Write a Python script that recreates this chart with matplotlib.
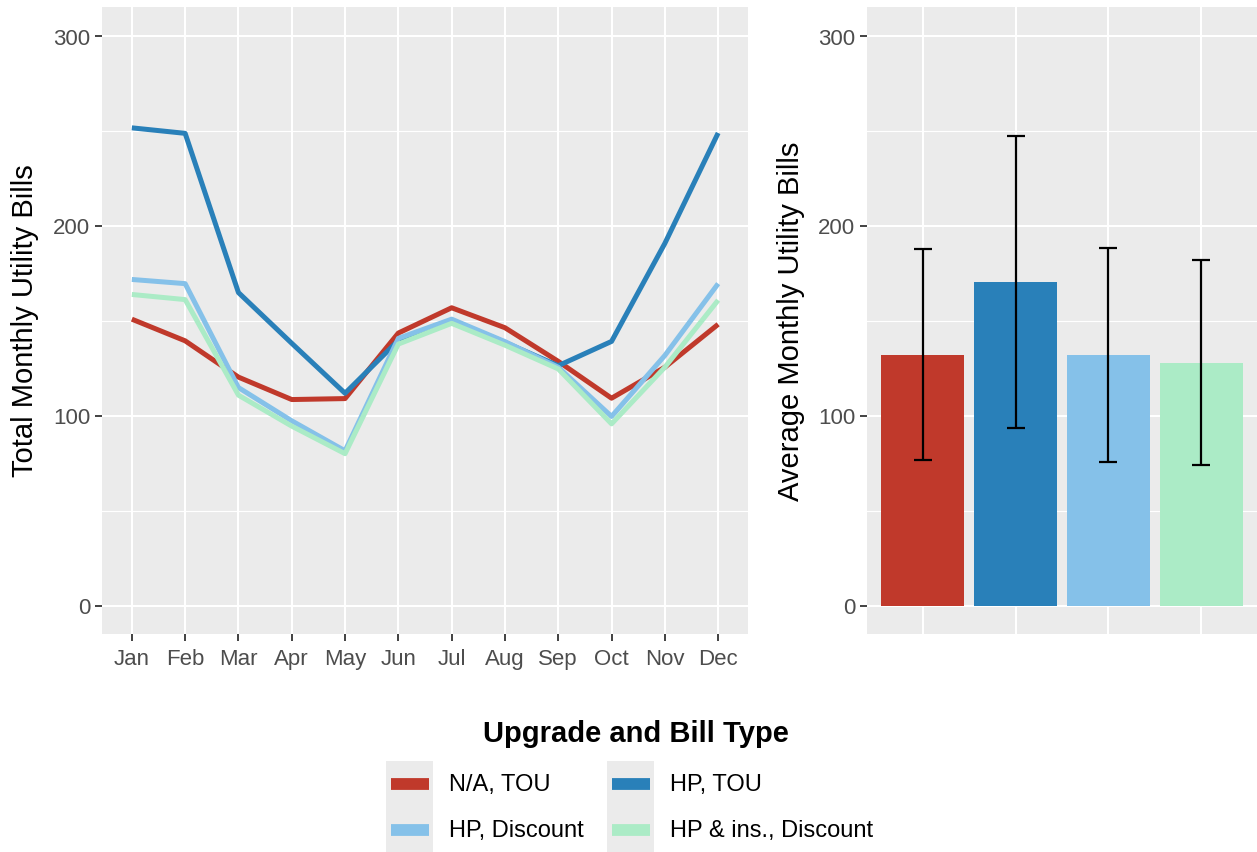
import numpy as np
import matplotlib.pyplot as plt
from matplotlib.patches import Rectangle
from matplotlib.lines import Line2D

plt.rcParams['font.family'] = ['Liberation Sans', 'DejaVu Sans']

# data
months = ['Jan', 'Feb', 'Mar', 'Apr', 'May', 'Jun', 'Jul', 'Aug', 'Sep', 'Oct', 'Nov', 'Dec']
groups = ['N/A, TOU', 'HP, TOU', 'HP, Discount', 'HP & ins., Discount']
colors = ['#C0392B', '#2980B9', '#85C1E9', '#ABEBC6']

na_tou = [150.7, 139.3, 120.2, 108.4, 108.9, 143.4, 156.7, 146.2, 128.5, 109.1, 125.4, 148.0]
hp_tou = [251.4, 248.5, 164.7, 138.0, 111.7, 139.5, 150.0, 138.5, 126.2, 139.0, 190.6, 248.7]
hp_disc = [171.6, 169.4, 114.7, 97.2, 81.4, 140.6, 150.7, 138.9, 125.4, 99.5, 131.6, 169.4]
hp_ins_disc = [163.7, 161.0, 110.7, 94.4, 79.9, 137.6, 148.5, 137.0, 124.5, 95.6, 125.4, 160.7]

avg_bill = [132.0, 170.3, 132.0, 127.6]
err_low = [76.6, 93.2, 75.7, 73.9]
err_high = [187.4, 247.3, 188.4, 182.1]

W, H = 1257, 853
fig = plt.figure(figsize=(W / 100, H / 100), dpi=100)

def style(ax):
    ax.set_facecolor('#EBEBEB')
    for s in ax.spines.values():
        s.set_visible(False)
    ax.set_ylim(-15, 315)
    ax.set_yticks([0, 100, 200, 300])
    ax.set_yticks([50, 150, 250], minor=True)
    ax.grid(which='major', color='white', lw=1.5)
    ax.grid(which='minor', axis='y', color='white', lw=0.8)
    ax.set_axisbelow(True)
    ax.tick_params(which='major', length=5, width=1.3, color='#333333',
                   labelcolor='#4D4D4D', labelsize=16, pad=3.5)
    ax.tick_params(which='minor', length=0)

# left: monthly lines
ax1 = fig.add_axes([102 / W, 1 - 635 / H, 646 / W, 627 / H])
style(ax1)
x = np.arange(len(months))
for vals, c in zip([na_tou, hp_tou, hp_disc, hp_ins_disc], colors):
    ax1.plot(x, vals, color=c, lw=3.6, solid_joinstyle='round', solid_capstyle='butt')
ax1.set_xlim(-0.56, len(months) - 0.44)
ax1.set_xticks(x)
ax1.set_xticklabels(months)
ax1.tick_params(axis='x', pad=5)

# right: averages with error bars
ax2 = fig.add_axes([867 / W, 1 - 635 / H, 390 / W, 627 / H])
style(ax2)
xb = np.arange(len(groups))
ax2.bar(xb, avg_bill, width=0.9, color=colors)
avg = np.array(avg_bill)
yerr = [avg - np.array(err_low), np.array(err_high) - avg]
ax2.errorbar(xb, avg, yerr=yerr, fmt='none', ecolor='black', elinewidth=1.6,
             capsize=6.7, capthick=1.6)
ax2.set_xlim(-0.6, len(groups) - 0.4)
ax2.set_xticks(xb)
ax2.tick_params(axis='x', length=0, labelbottom=False)

fig.text(25 / W, 1 - 321 / H, 'Total Monthly Utility Bills', rotation=90,
         ha='center', va='center', fontsize=21, color='black')
fig.text(791 / W, 1 - 321 / H, 'Average Monthly Utility Bills', rotation=90,
         ha='center', va='center', fontsize=21, color='black')

# legend
fig.text(636 / W, 1 - 734 / H, 'Upgrade and Bill Type', ha='center', va='center',
         fontsize=21, fontweight='bold')
col_x = [386, 607]
row_y = [785, 831]
for i, (g, c) in enumerate(zip(groups, colors)):
    cx = col_x[i % 2]
    cy = row_y[i // 2]
    fig.add_artist(Rectangle((cx / W, 1 - (cy + 23) / H), 47 / W, 46 / H,
                             transform=fig.transFigure, color='#EBEBEB', lw=0))
    fig.add_artist(Line2D([(cx + 5) / W, (cx + 43) / W], [1 - cy / H, 1 - cy / H],
                          transform=fig.transFigure, color=c, lw=8.5,
                          solid_capstyle='butt'))
    fig.text((cx + 63) / W, 1 - cy / H, g, ha='left', va='center', fontsize=17)

fig.savefig('out.png', dpi=100)
